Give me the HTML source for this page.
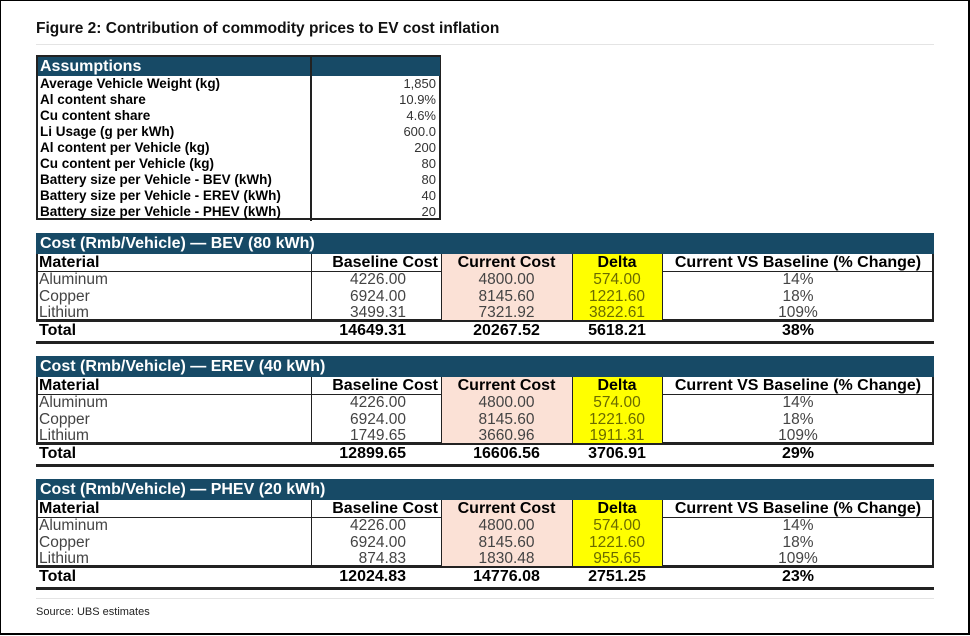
<!DOCTYPE html>
<html><head><meta charset="utf-8">
<style>
body{margin:0;background:#fff;}
#frame{position:absolute;left:0;top:0;width:967px;height:632px;border:1px solid #000;border-right:2px solid #000;border-bottom:2px solid #000;background:#fff;overflow:hidden;font-family:"Liberation Sans",sans-serif;}
.abs{position:absolute;}
.title{left:35px;top:19px;font-size:15.5px;font-weight:bold;color:#111;}
.sep{height:1px;background:#e4e4e4;}
.cell{position:absolute;box-sizing:border-box;white-space:nowrap;overflow:hidden;line-height:17px;font-family:"Liberation Sans Narrow","Liberation Sans",sans-serif;}
.hdr{background:#174a66;color:#fff;font-weight:bold;}
.tbl{position:absolute;left:35px;width:898px;}
</style></head><body>
<div id="frame">
<div class="abs title">Figure 2: Contribution of commodity prices to EV cost inflation</div>
<div class="abs sep" style="left:35px;top:43px;width:898px;"></div>

<div id="assump" class="abs" style="left:35px;top:54px;width:405px;height:165px;border:2px solid #222;box-sizing:border-box;"></div>
<div id="tables"></div>

<div class="abs sep" style="left:35px;top:597px;width:898px;"></div>
<div class="abs" style="left:35px;top:605px;font-size:11px;color:#222;font-family:'Liberation Sans Narrow','Liberation Sans',sans-serif;">Source: UBS estimates</div>
</div>
<script>
const assumpLabels=["Average Vehicle Weight (kg)","Al content share","Cu content share","Li Usage (g per kWh)","Al content per Vehicle (kg)","Cu content per Vehicle (kg)","Battery size per Vehicle - BEV (kWh)","Battery size per Vehicle - EREV (kWh)","Battery size per Vehicle - PHEV (kWh)"];
const assumpValues=["1,850","10.9%","4.6%","600.0","200","80","80","40","20"];
const tableTitles=["Cost  (Rmb/Vehicle) — BEV (80 kWh)","Cost  (Rmb/Vehicle) — EREV (40 kWh)","Cost  (Rmb/Vehicle) — PHEV (20 kWh)"];
const colHeaders=["Material","Baseline Cost","Current Cost","Delta","Current VS Baseline (% Change)"];
const materials=["Aluminum","Copper","Lithium"];
const baseline=[["4226.00","6924.00","3499.31"],["4226.00","6924.00","1749.65"],["4226.00","6924.00","874.83"]];
const current=[["4800.00","8145.60","7321.92"],["4800.00","8145.60","3660.96"],["4800.00","8145.60","1830.48"]];
const delta=[["574.00","1221.60","3822.61"],["574.00","1221.60","1911.31"],["574.00","1221.60","955.65"]];
const pct=[["14%","18%","109%"],["14%","18%","109%"],["14%","18%","109%"]];
const totals=[["14649.31","20267.52","5618.21","38%"],["12899.65","16606.56","3706.91","29%"],["12024.83","14776.08","2751.25","23%"]];

function mk(parent,css,text,cls){const d=document.createElement('div');d.className=cls||'cell';d.style.cssText=css;if(text!==undefined)d.textContent=text;parent.appendChild(d);return d;}

const A=document.getElementById('assump');
let h=mk(A,'left:0;top:0;width:272px;height:19px;font-size:16px;padding-left:2px;line-height:20px;font-family:"Liberation Sans",sans-serif;','Assumptions','cell hdr');


h=mk(A,'left:272px;top:0;width:130px;height:19px;border-left:2px solid #222;','','cell hdr');


mk(A,'left:272px;top:19px;width:2px;height:145px;background:#222;','', 'cell');
assumpLabels.forEach((l,i)=>{
  const y=19+i*16;
  const a=mk(A,`left:2px;top:${y}px;width:268px;height:16px;line-height:16px;font-size:13.5px;font-weight:bold;font-family:"Liberation Sans",sans-serif;`,l);
  
  
  const b=mk(A,`left:276px;top:${y}px;width:122px;height:16px;line-height:16px;font-size:13px;text-align:right;color:#333;`,assumpValues[i]);
  
  
});

const colX=[0,275,405,536,626,898];
const T=document.getElementById('tables');
const tops=[232,355,478];
tableTitles.forEach((t,k)=>{
  const tb=document.createElement('div');tb.className='tbl';tb.style.top=tops[k]+'px';tb.style.height='112px';
  
  
  T.appendChild(tb);
  let e=mk(tb,'left:0;top:0;width:898px;height:21px;font-size:16px;line-height:22px;padding-left:4px;',t,'cell hdr');
  
  
  mk(tb,'left:0;top:21px;width:898px;height:67px;border:2px solid #222;border-top:none;','');
  mk(tb,'left:0;top:38px;width:898px;height:1px;background:#222;','');
  mk(tb,`left:${colX[2]}px;top:21px;width:${colX[3]-colX[2]}px;height:67px;background:#fbe1d6;`,'');
  mk(tb,`left:${colX[3]}px;top:21px;width:${colX[4]-colX[3]}px;height:67px;background:#ffff00;`,'');
  for(let c=1;c<5;c++) mk(tb,`left:${colX[c]}px;top:21px;width:1px;height:67px;background:#222;`,'');
  mk(tb,'left:0;top:87px;width:898px;height:2px;background:#222;','');
  mk(tb,'left:0;top:108px;width:898px;height:3px;background:#222;','');
  colHeaders.forEach((c,i)=>{
    e=mk(tb,`left:${colX[i]+3}px;top:21px;width:${colX[i+1]-colX[i]-6}px;height:17px;font-size:16px;font-weight:bold;line-height:18px;text-align:${i==0?'left':(i==1?'right':'center')};`,c);
    
    
  });
  materials.forEach((m,r)=>{
    const y=38+r*16.5;
    const vals=[m,baseline[k][r],current[k][r],delta[k][r],pct[k][r]];
    vals.forEach((v,i)=>{
      e=mk(tb,`left:${colX[i]+3}px;top:${y}px;width:${colX[i+1]-colX[i]-6}px;height:17px;font-size:15.5px;color:${i==3?'#6b6b00':'#444'};text-align:${i==0?'left':(i==1?'right':'center')};${i==1?'padding-right:32px;':''}`,v);
      
      
    });
  });
  const tv=['Total'].concat(totals[k]);
  tv.forEach((v,i)=>{
    e=mk(tb,`left:${colX[i]+3}px;top:89px;width:${colX[i+1]-colX[i]-6}px;height:17px;font-size:16px;font-weight:bold;text-align:${i==0?'left':(i==1?'right':'center')};${i==1?'padding-right:32px;':''}`,v);
    
    
  });
});
</script>
</body></html>
